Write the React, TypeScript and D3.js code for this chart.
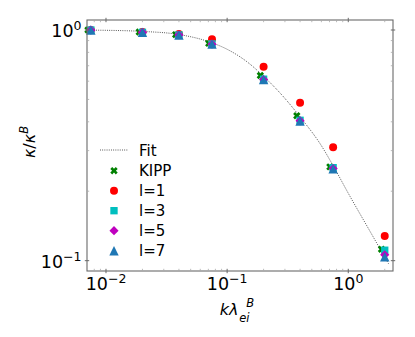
import React from "react";
import * as d3 from "d3";

// k * lambda_ei^B sample points
const kValues = [0.0075, 0.02, 0.04, 0.075, 0.2, 0.4, 0.75, 2.0];
const kippK = [0.0071, 0.0188, 0.0376, 0.0705, 0.188, 0.376, 0.705, 1.88];

const kipp = [1.0, 0.98, 0.955, 0.875, 0.635, 0.425, 0.255, 0.112];
const l1 = [1.0, 0.98, 0.96, 0.912, 0.693, 0.484, 0.31, 0.128];
const l3 = [1.0, 0.977, 0.952, 0.87, 0.612, 0.406, 0.253, 0.111];
const l5 = [0.998, 0.976, 0.951, 0.868, 0.61, 0.404, 0.251, 0.106];
const l7 = [1.0, 0.977, 0.952, 0.87, 0.61, 0.403, 0.25, 0.104];

// fit curve
const fitK = [0.007, 0.01, 0.02, 0.04, 0.075, 0.1, 0.15, 0.2, 0.3, 0.4, 0.6, 0.75, 1.0, 1.5, 2.15];
const fitY = [0.999, 0.997, 0.986, 0.956, 0.88, 0.825, 0.72, 0.63, 0.505, 0.42, 0.315, 0.258, 0.196, 0.135, 0.097];

const xTicks = [0.01, 0.1, 1];
const xTickExp = ["−2", "−1", "0"];
const yTicks = [0.1, 1];
const yTickExp = ["−1", "0"];

const W = 415;
const H = 337;
const margin = { top: 20, right: 22, bottom: 66, left: 87 };

const FONT = "DejaVu Sans, sans-serif";

function markerPath(kind: string): string {
  if (kind === "circle") return d3.symbol(d3.symbolCircle, 50)() as string;
  if (kind === "square") return d3.symbol(d3.symbolSquare, 54)() as string;
  if (kind === "diamond") return d3.symbol(d3.symbolSquare, 42)() as string;
  if (kind === "x") {
    // filled X like matplotlib 'X'
    const a = 3.7;
    const t = 1.9;
    return (
      `M${-a + t},${-a}L0,${-t}L${a - t},${-a}L${a},${-a + t}L${t},0L${a},${a - t}` +
      `L${a - t},${a}L0,${t}L${-a + t},${a}L${-a},${a - t}L${-t},0L${-a},${-a + t}Z`
    );
  }
  // triangle, centred on bbox like matplotlib '^'
  const h = 4.7;
  return `M0,${-h}L${h},${h}L${-h},${h}Z`;
}

function rot(kind: string) {
  return kind === "diamond" ? " rotate(45)" : "";
}

const series = [
  { name: "KIPP", xs: kippK, ys: kipp, color: "#008000", kind: "x" },
  { name: "l=1", xs: kValues, ys: l1, color: "#ff0000", kind: "circle" },
  { name: "l=3", xs: kValues, ys: l3, color: "#00bfbf", kind: "square" },
  { name: "l=5", xs: kValues, ys: l5, color: "#bf00bf", kind: "diamond" },
  { name: "l=7", xs: kValues, ys: l7, color: "#1f77b4", kind: "triangle" },
];

export default function App() {
  const x0 = margin.left;
  const x1 = W - margin.right;
  const y0 = margin.top;
  const y1 = H - margin.bottom;

  const xScale = d3.scaleLog().domain([0.00697, 2.34]).range([x0, x1]);
  const yScale = d3.scaleLog().domain([0.0902, 1.105]).range([y1, y0]);

  const xMinor: number[] = [];
  [0.001, 0.01, 0.1, 1].forEach((d) => {
    for (let i = 2; i <= 9; i++) {
      const v = d * i;
      if (v > 0.00705 && v < 2.34) xMinor.push(v);
    }
  });
  const yMinor: number[] = [];
  for (let i = 2; i <= 9; i++) yMinor.push(0.1 * i);

  const fitLine = d3
    .line<number>()
    .x((d, i) => xScale(fitK[i]))
    .y((d) => yScale(d))
    .curve(d3.curveMonotoneX);

  const axisColor = "#6a6a6a";

  return (
    <svg width={W} height={H} style={{ position: "absolute", left: 0, top: 0 }} fontFamily={FONT}>
      <rect width={W} height={H} fill="white" />

      {/* fit */}
      <path d={fitLine(fitY) as string} fill="none" stroke="#333" strokeWidth={0.9} strokeDasharray="0.9,1.3" />

      {/* data */}
      {series.map((s) => (
        <g key={s.name}>
          {s.ys.map((v, i) => (
            <path
              key={i}
              d={markerPath(s.kind)}
              transform={`translate(${xScale(s.xs[i])},${yScale(v)})${rot(s.kind)}`}
              fill={s.color}
            />
          ))}
        </g>
      ))}

      {/* frame */}
      <rect x={x0} y={y0} width={x1 - x0} height={y1 - y0} fill="none" stroke={axisColor} strokeWidth={1.1} />

      {/* x ticks bottom & top */}
      {xTicks.map((t) => (
        <g key={"xt" + t}>
          <line x1={xScale(t)} x2={xScale(t)} y1={y1 - 2.2} y2={y1 + 2.2} stroke={axisColor} />
          <line x1={xScale(t)} x2={xScale(t)} y1={y0 - 2.2} y2={y0 + 2.2} stroke={axisColor} />
        </g>
      ))}
      {xMinor.map((t) => (
        <g key={"xm" + t}>
          <line x1={xScale(t)} x2={xScale(t)} y1={y1} y2={y1 - 2.2} stroke="#aaa" strokeWidth={0.8} />
          <line x1={xScale(t)} x2={xScale(t)} y1={y0} y2={y0 + 2.2} stroke="#aaa" strokeWidth={0.8} />
        </g>
      ))}
      {/* y ticks left & right */}
      {yTicks.map((t) => (
        <g key={"yt" + t}>
          <line x1={x0 - 2.2} x2={x0 + 2.2} y1={yScale(t)} y2={yScale(t)} stroke={axisColor} />
          <line x1={x1 - 2.2} x2={x1 + 2.2} y1={yScale(t)} y2={yScale(t)} stroke={axisColor} />
        </g>
      ))}
      {yMinor.map((t) => (
        <g key={"ym" + t}>
          <line x1={x0} x2={x0 + 2.2} y1={yScale(t)} y2={yScale(t)} stroke="#aaa" strokeWidth={0.8} />
          <line x1={x1} x2={x1 - 2.2} y1={yScale(t)} y2={yScale(t)} stroke="#aaa" strokeWidth={0.8} />
        </g>
      ))}

      {/* tick labels */}
      {xTicks.map((t, i) => (
        <text key={"xl" + t} x={xScale(t)} y={y1 + 18.5} textAnchor="middle" fontSize={17.5} fill="#000">
          10
          <tspan fontSize={12.5} dy={-7}>
            {xTickExp[i]}
          </tspan>
        </text>
      ))}
      {yTicks.map((t, i) => (
        <text key={"yl" + t} x={x0 - 5.5} y={yScale(t) + 7.3} textAnchor="end" fontSize={17.5} fill="#000">
          10
          <tspan fontSize={12.5} dy={-7}>
            {yTickExp[i]}
          </tspan>
        </text>
      ))}

      {/* axis labels */}
      <text x={238.5} y={315} textAnchor="end" fontSize={16} fontStyle="italic" fill="#000">
        kλ
      </text>
      <text x={239.3} y={321.5} fontSize={11.5} fontStyle="italic" fill="#000">
        ei
      </text>
      <text x={246.3} y={307} fontSize={11.5} fontStyle="italic" fill="#000">
        B
      </text>

      <text transform="translate(35,142) rotate(-90)" textAnchor="middle" fontSize={16} fill="#000">
        <tspan fontStyle="italic">κ</tspan>/<tspan fontStyle="italic">κ</tspan>
        <tspan fontSize={11.5} dy={-7} fontStyle="italic">
          B
        </tspan>
      </text>

      {/* legend */}
      <g>
        <line x1={100} x2={128} y1={150} y2={150} stroke="#333" strokeWidth={0.9} strokeDasharray="0.9,1.3" />
        <text x={139} y={155.5} fontSize={15} fill="#000">
          Fit
        </text>
        {series.map((s, i) => (
          <g key={"lg" + s.name}>
            <path d={markerPath(s.kind)} transform={`translate(114,${170.7 + i * 20})${rot(s.kind)}`} fill={s.color} />
            <text x={139} y={176.2 + i * 20} fontSize={15} fill="#000">
              {s.name}
            </text>
          </g>
        ))}
      </g>
    </svg>
  );
}
